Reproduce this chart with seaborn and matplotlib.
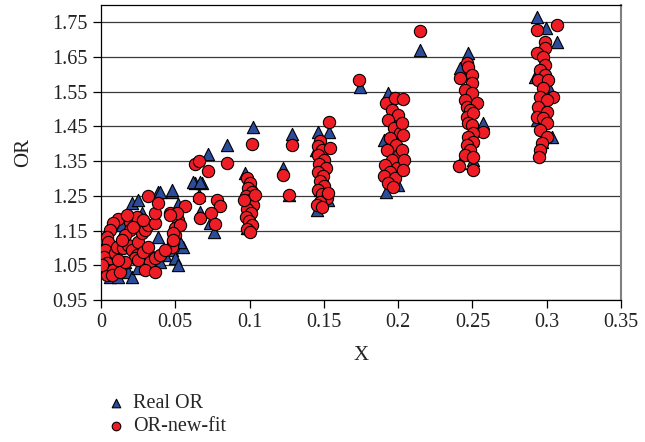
import pandas as pd
import matplotlib
matplotlib.use("Agg")
import matplotlib.pyplot as plt
import seaborn as sns

# Real OR (triangles)
real_x = [0.0384, 0.0478, 0.0209, 0.0249, 0.0518, 0.0633, 0.0680, 0.0384, 0.0013, 0.0128,
          0.0182, 0.0209, 0.0296, 0.0330, 0.0276, 0.0478, 0.0552, 0.0060, 0.0114,
          0.0027, 0.0074, 0.0094, 0.0047, 0.0160, 0.0249, 0.0262, 0.0343, 0.0397, 0.0430,
          0.0498, 0.0518, 0.0532, 0.0141,
          0.1023, 0.0848, 0.0720, 0.0619, 0.0666, 0.0478, 0.0397, 0.0660, 0.0666, 0.0760,
          0.0734, 0.0969, 0.0983,
          0.0990, 0.1010, 0.0985, 0.1005, 0.0995, 0.1015,
          0.1285, 0.1225, 0.1265,
          0.1460, 0.1534, 0.1454, 0.1447, 0.1487, 0.1474, 0.1528,
          0.1743,
          0.1931, 0.1904, 0.1978, 0.1918, 0.1999, 0.1945, 0.2012, 0.1958,
          0.2147,
          0.2470, 0.2416, 0.2571, 0.2503, 0.2416, 0.2463, 0.2483, 0.2497,
          0.2934, 0.2995, 0.3069, 0.2921, 0.3022, 0.2934, 0.3035, 0.2968, 0.2988, 0.2954]
real_y = [1.261, 1.261, 1.229, 1.238, 1.226, 1.287, 1.287, 1.131, 1.128, 1.128,
          1.031, 1.016, 1.056, 1.094, 1.200, 1.094, 1.103, 1.016, 1.016,
          1.036, 1.051, 1.080, 1.100, 1.059, 1.042, 1.071, 1.042, 1.059, 1.080,
          1.071, 1.051, 1.117, 1.166,
          1.448, 1.396, 1.370, 1.290, 1.290, 1.267, 1.261, 1.252, 1.203, 1.146,
          1.172, 1.315, 1.157,
          1.160, 1.180, 1.200, 1.230, 1.260, 1.280,
          1.428, 1.330, 1.252,
          1.433, 1.433, 1.209, 1.382, 1.310, 1.267, 1.238,
          1.563,
          1.546, 1.410, 1.468, 1.261, 1.281, 1.339, 1.382, 1.511,
          1.669,
          1.661, 1.618, 1.459, 1.353, 1.344, 1.526, 1.569, 1.410,
          1.764, 1.733, 1.692, 1.592, 1.554, 1.468, 1.419, 1.405, 1.641, 1.511]

# OR-new-fit (circles)
fit_x = [0.0114, 0.0081, 0.0061, 0.0040, 0.0047, 0.0027, 0.0020, 0.0040, 0.0047, 0.0040,
         0.0081, 0.0094, 0.0108, 0.0148, 0.0182, 0.0209, 0.0242, 0.0229, 0.0249, 0.0276,
         0.0296, 0.0316, 0.0195, 0.0195, 0.0242, 0.0363, 0.0363, 0.0384, 0.0316, 0.0464,
         0.0518, 0.0498, 0.0498, 0.0485, 0.0478, 0.0565, 0.0666, 0.0249, 0.0283, 0.0316,
         0.0074, 0.0128, 0.0160, 0.0114, 0.0330, 0.0363, 0.0397, 0.0431, 0.0296, 0.0363,
         0.0007, 0.0162, 0.0141, 0.0215, 0.0280, 0.0175,
         0.1016, 0.0848, 0.0633, 0.0660, 0.0720, 0.0660, 0.0781, 0.0801, 0.0740, 0.0767,
         0.0511, 0.0464, 0.0532, 0.0485, 0.0485,
         0.0983, 0.1003, 0.0990, 0.1016, 0.0976, 0.1003, 0.1023, 0.0983, 0.1010, 0.0976,
         0.0996, 0.1016, 0.0983, 0.1003, 0.0962, 0.1036,
         0.1285, 0.1225, 0.1265,
         0.1534, 0.1474, 0.1460, 0.1487, 0.1460, 0.1501, 0.1467, 0.1514, 0.1460, 0.1494,
         0.1474, 0.1501, 0.1460, 0.1487, 0.1521, 0.1474, 0.1454, 0.1487, 0.1541, 0.1528,
         0.1736,
         0.1918, 0.1978, 0.1958, 0.1999, 0.1931, 0.1972, 0.2012, 0.1945, 0.1985, 0.1925,
         0.2006, 0.1958, 0.1911, 0.1992, 0.1945, 0.1904, 0.1978, 0.1931, 0.1965,
         0.2032, 0.2025, 0.2032, 0.2025, 0.2039, 0.2032,
         0.2147,
         0.2463, 0.2470, 0.2416, 0.2497, 0.2497, 0.2450, 0.2497, 0.2450, 0.2463, 0.2530,
         0.2483, 0.2463, 0.2503, 0.2470, 0.2497, 0.2571, 0.2503, 0.2470, 0.2503, 0.2463,
         0.2483, 0.2450, 0.2503, 0.2409, 0.2503,
         0.2934, 0.3069, 0.2988, 0.2988, 0.2934, 0.2974, 0.2988, 0.2954, 0.2988, 0.2941,
         0.3008, 0.2974, 0.2954, 0.3042, 0.3001, 0.2941, 0.3001, 0.2934, 0.2974, 0.3001,
         0.2954, 0.3001, 0.2968, 0.2954, 0.2948]
fit_y = [1.183, 1.172, 1.151, 1.131, 1.117, 1.094, 1.074, 1.056, 1.036, 1.022,
         1.036, 1.085, 1.103, 1.100, 1.108, 1.094, 1.080, 1.071, 1.117, 1.143,
         1.151, 1.166, 1.174, 1.151, 1.189, 1.172, 1.200, 1.229, 1.249, 1.200,
         1.180, 1.157, 1.137, 1.117, 1.103, 1.221, 1.186, 1.065, 1.088, 1.103,
         1.022, 1.031, 1.059, 1.065, 1.059, 1.071, 1.080, 1.094, 1.036, 1.031,
         1.051, 1.137, 1.123, 1.160, 1.180, 1.195,
         1.399, 1.344, 1.341, 1.350, 1.321, 1.244, 1.238, 1.221, 1.200, 1.169,
         1.200, 1.195, 1.166, 1.143, 1.123,
         1.301, 1.287, 1.272, 1.261, 1.249, 1.238, 1.223, 1.212, 1.200, 1.189,
         1.177, 1.166, 1.154, 1.146, 1.238, 1.252,
         1.396, 1.310, 1.252,
         1.462, 1.408, 1.393, 1.382, 1.367, 1.353, 1.341, 1.330, 1.318, 1.307,
         1.292, 1.278, 1.267, 1.255, 1.244, 1.232, 1.223, 1.218, 1.387, 1.258,
         1.583,
         1.517, 1.531, 1.497, 1.482, 1.468, 1.445, 1.431, 1.416, 1.396, 1.382,
         1.367, 1.353, 1.339, 1.330, 1.318, 1.307, 1.301, 1.287, 1.275,
         1.528, 1.459, 1.425, 1.382, 1.353, 1.324,
         1.724,
         1.632, 1.621, 1.589, 1.597, 1.574, 1.554, 1.546, 1.526, 1.505, 1.517,
         1.497, 1.477, 1.488, 1.459, 1.454, 1.433, 1.431, 1.419, 1.405, 1.396,
         1.382, 1.367, 1.362, 1.336, 1.324,
         1.727, 1.741, 1.693, 1.675, 1.661, 1.649, 1.626, 1.612, 1.598, 1.583,
         1.583, 1.560, 1.534, 1.534, 1.526, 1.505, 1.491, 1.477, 1.474, 1.459,
         1.439, 1.419, 1.402, 1.382, 1.362]

y_ticks = [0.95, 1.05, 1.15, 1.25, 1.35, 1.45, 1.55, 1.65, 1.75]
x_ticks = [0, 0.05, 0.1, 0.15, 0.2, 0.25, 0.3, 0.35]
x_labels = ["0", "0.05", "0.1", "0.15", "0.2", "0.25", "0.3", "0.35"]

BLUE = "#2b4c9b"
RED = "#ee1d25"

sns.set_style("ticks")
plt.rcParams["font.family"] = ["Liberation Serif", "DejaVu Serif"]

real_df = pd.DataFrame({"X": real_x, "OR": real_y})
fit_df = pd.DataFrame({"X": fit_x, "OR": fit_y})

fig = plt.figure(figsize=(6.45, 4.42), dpi=100)
ax = fig.add_axes([101 / 645, 142 / 442, 520 / 645, 295 / 442])

sns.scatterplot(data=real_df, x="X", y="OR", marker="^", s=78, color=BLUE,
                edgecolor="black", linewidth=0.8, label="Real OR", ax=ax, zorder=3)
sns.scatterplot(data=fit_df, x="X", y="OR", marker="o", s=78, color=RED,
                edgecolor="black", linewidth=0.8, label="OR-new-fit", ax=ax, zorder=4)

ax.set_xlim(0, 0.35)
ax.set_ylim(0.95, 1.80)
ax.set_yticks(y_ticks)
ax.set_yticklabels([f"{v:.2f}" for v in y_ticks])
ax.set_xticks(x_ticks)
ax.set_xticklabels(x_labels)
ax.yaxis.grid(True, color="#3a3a3a", linewidth=0.9)
ax.set_axisbelow(True)
ax.tick_params(axis="both", labelsize=14.5, length=6, width=0.9, color="black",
               labelcolor="#222222")
for side in ["left", "bottom", "top"]:
    ax.spines[side].set_color("black")
    ax.spines[side].set_linewidth(0.9)
ax.spines["right"].set_color("#808080")
ax.spines["right"].set_linewidth(1.5)

ax.set_xlabel("X", fontsize=15, color="#222222", labelpad=10)
ax.set_ylabel("OR", fontsize=15, color="#222222", labelpad=14)

handles, labels = ax.get_legend_handles_labels()
ax.legend_.remove()
fig.legend(handles, labels, loc="upper left", bbox_to_anchor=(96 / 645, 1 - 386 / 442),
           frameon=False, fontsize=14.5, markerscale=0.7, handletextpad=0.25,
           labelspacing=0.2, borderaxespad=0, handlelength=1.2)

fig.savefig("out.png", dpi=100)
